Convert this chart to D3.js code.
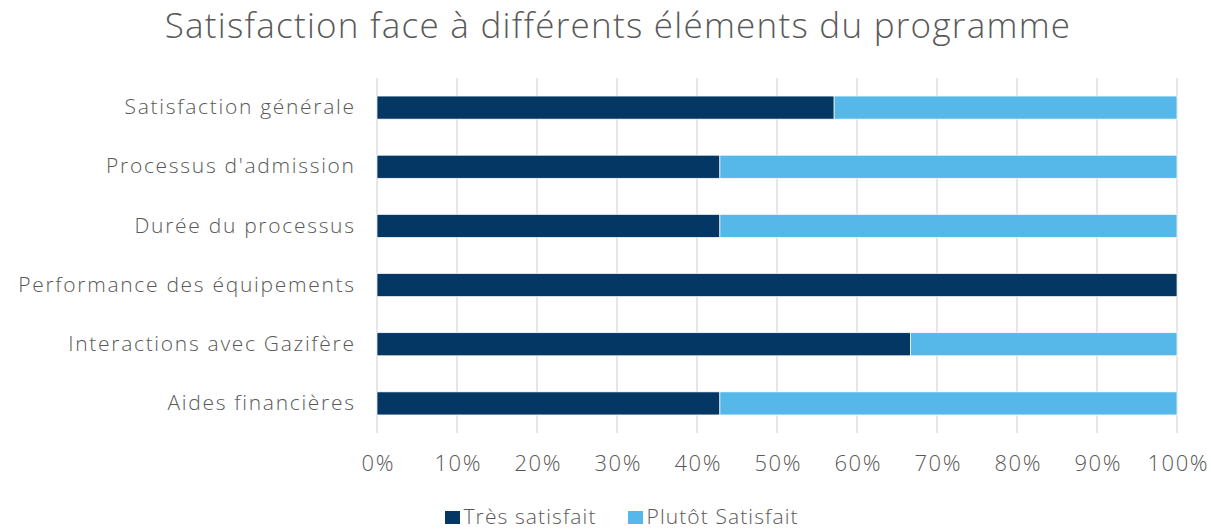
<!DOCTYPE html>
<html><head><meta charset="utf-8">
<script src="https://cdn.jsdelivr.net/npm/d3@7"></script>
<style>body{margin:0;background:#fff;} text{font-family:"Open Sans",Lato,sans-serif;font-weight:300;}</style>
</head><body><svg id="c" width="1211" height="529"></svg>
<script>
const categories = ["Satisfaction générale","Processus d'admission","Durée du processus","Performance des équipements","Interactions avec Gazifère","Aides financières"];
const tresSatisfait = [0.5714,0.4286,0.4286,1.0,0.6667,0.4286];
const plutotSatisfait = [0.4286,0.5714,0.5714,0.0,0.3333,0.5714];
const seriesNames = ["Très satisfait","Plutôt Satisfait"];
const colors = ["#043764","#56b8e9"];
const tickValues = [0,0.1,0.2,0.3,0.4,0.5,0.6,0.7,0.8,0.9,1.0];

const svg = d3.select("#c");
const x = d3.scaleLinear().domain([0,1]).range([377,1177]);
const y = d3.scaleBand().domain(categories).range([78,433]).paddingInner(0.61).paddingOuter(0.305);
const grey="#595959";
const FF='"Open Sans",Lato,sans-serif';

svg.append("text").attr("x",618).attr("y",38).attr("text-anchor","middle")
  .attr("font-size",35).attr("fill",grey).style("letter-spacing","1.25px")
  .text("Satisfaction face à différents éléments du programme");

svg.append("g").selectAll("line").data(tickValues).join("line")
  .attr("x1",d=>x(d)).attr("x2",d=>x(d)).attr("y1",78).attr("y2",433)
  .attr("stroke","#d9d9d9").attr("stroke-width",1.3);

const stackData = categories.map((c,i)=>({cat:c, a:tresSatisfait[i], b:plutotSatisfait[i]}));
const stack = d3.stack().keys(["a","b"])(stackData);
svg.append("g").selectAll("g").data(stack).join("g").attr("fill",(d,i)=>colors[i])
  .selectAll("rect").data(d=>d).join("rect")
  .attr("x",d=>x(d[0])).attr("width",d=>Math.max(0,x(d[1])-x(d[0])))
  .attr("y",d=>y(d.data.cat)).attr("height",y.bandwidth())
  .attr("stroke","#fff").attr("stroke-width",0.7);

const xa = svg.append("g").attr("transform","translate(0,433)")
  .call(d3.axisBottom(x).tickValues(tickValues).tickFormat(d3.format(".0%")).tickSize(0).tickPadding(22));
xa.select(".domain").remove();
xa.selectAll("text").attr("font-size",22).attr("fill",grey).style("font-family",FF).style("font-weight",300)
  .style("letter-spacing","1.5px").attr("dx","0.75px");

const ya = svg.append("g").attr("transform","translate(377,0)")
  .call(d3.axisLeft(y).tickSize(0).tickPadding(23));
ya.select(".domain").remove();
ya.selectAll("text").attr("font-size",21).attr("fill",grey).style("font-family",FF).style("font-weight",300)
  .style("letter-spacing","1.7px").attr("dx","1.7px");

const leg = svg.append("g");
const lx=[445,628];
seriesNames.forEach((n,i)=>{
  leg.append("rect").attr("x",lx[i]).attr("y",511).attr("width",15).attr("height",13).attr("fill",colors[i]);
  leg.append("text").attr("x",lx[i]+18.5).attr("y",524).attr("font-size",21).attr("fill",grey)
    .style("letter-spacing","1.1px").text(n);
});
</script></body></html>
